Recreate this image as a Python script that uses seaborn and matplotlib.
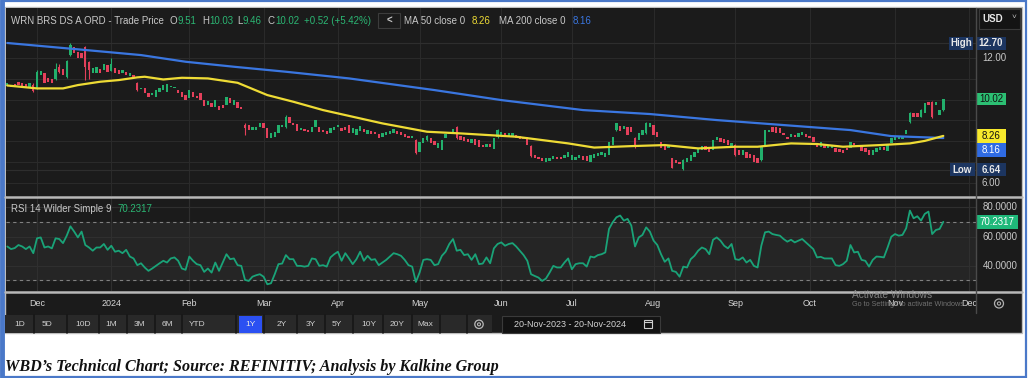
import numpy as np
import matplotlib
matplotlib.use("Agg")
import matplotlib.pyplot as plt
from matplotlib.patches import Rectangle, Circle
import seaborn as sns

# daily candles, 20-Nov-2023 .. 20-Nov-2024
opens = [
    10.65, 10.70, 10.75, 10.86, 10.81, 10.73, 10.62, 10.70, 10.54, 11.18,
    11.26, 11.02, 10.97, 10.97, 11.58, 11.46, 11.10, 12.14, 12.54, 12.30,
    12.25, 12.54, 11.82, 11.26, 11.26, 11.46, 11.42, 11.66, 11.39, 11.50,
    11.42, 11.26, 11.34, 11.14, 11.18, 10.78, 10.52, 10.54, 10.30, 10.22,
    10.14, 10.38, 10.46, 10.38, 10.62, 10.55, 10.46, 10.38, 10.22, 10.06,
    10.38, 10.17, 10.30, 9.98, 9.74, 9.85, 9.66, 9.69, 9.74, 9.74,
    10.06, 9.74, 9.90, 9.66, 8.78, 8.78, 8.54, 8.54, 8.70, 8.86,
    8.62, 8.14, 8.22, 8.38, 8.70, 8.70, 9.18, 8.86, 8.82, 8.54,
    8.57, 8.54, 8.46, 8.70, 8.70, 8.54, 8.51, 8.41, 8.54, 8.67,
    8.65, 8.70, 8.78, 8.38, 8.30, 8.49, 8.59, 8.33, 8.49, 8.46,
    8.33, 8.22, 8.30, 8.36, 8.38, 8.49, 8.43, 8.33, 8.27, 8.14,
    8.06, 7.50, 7.90, 8.06, 8.14, 8.01, 7.66, 7.58, 8.14, 8.33,
    8.41, 8.70, 8.25, 8.19, 8.09, 7.93, 8.09, 8.06, 7.82, 7.71,
    7.87, 7.61, 8.22, 8.30, 8.41, 8.22, 8.19, 8.30, 8.25, 8.22,
    8.22, 7.77, 7.34, 7.26, 7.22, 7.02, 7.06, 7.13, 7.26, 7.26,
    7.18, 7.26, 7.10, 7.10, 7.18, 7.29, 7.29, 7.02, 7.18, 7.29,
    7.34, 7.26, 7.34, 7.82, 8.54, 8.73, 8.57, 8.70, 8.70, 8.14,
    8.06, 8.30, 8.38, 8.70, 8.78, 8.46, 7.98, 7.82, 7.70, 7.18,
    7.10, 7.02, 6.65, 7.02, 7.06, 7.26, 7.42, 7.58, 7.77, 7.74,
    7.58, 8.06, 8.14, 8.09, 8.06, 7.74, 7.82, 7.58, 7.34, 7.50,
    7.38, 7.34, 7.18, 7.10, 7.74, 8.46, 8.70, 8.70, 8.62, 8.41,
    8.22, 8.22, 8.30, 8.22, 8.30, 8.34, 8.25, 8.22, 7.90, 7.74,
    7.82, 7.66, 7.66, 7.66, 7.61, 7.58, 7.66, 7.66, 7.93, 7.74,
    7.82, 7.66, 7.58, 7.34, 7.50, 7.58, 7.74, 7.54, 7.90, 8.06,
    8.09, 8.09, 8.34, 8.94, 9.34, 9.34, 9.18, 9.34, 9.90, 9.90,
    9.74, 9.26, 9.51,
]
closes = [
    10.81, 10.59, 10.62, 10.70, 10.62, 10.62, 10.81, 10.43, 11.34, 11.39,
    10.81, 10.86, 10.78, 11.46, 11.34, 11.18, 11.87, 12.62, 12.22, 11.98,
    12.00, 11.58, 11.42, 11.50, 11.55, 11.30, 11.71, 11.34, 11.71, 11.26,
    11.21, 11.42, 11.18, 11.30, 11.02, 10.46, 10.56, 10.30, 10.14, 10.33,
    10.46, 10.54, 10.70, 10.75, 10.65, 10.62, 10.30, 10.14, 9.98, 10.46,
    10.14, 10.06, 9.98, 9.69, 9.95, 9.63, 9.98, 9.50, 9.58, 10.14,
    9.82, 9.98, 9.58, 9.55, 8.62, 8.54, 8.70, 8.70, 8.86, 8.62,
    8.14, 8.38, 8.46, 8.78, 8.78, 9.18, 8.86, 8.78, 8.51, 8.62,
    8.51, 8.46, 8.70, 9.02, 8.46, 8.46, 8.35, 8.62, 8.70, 8.78,
    8.49, 8.54, 8.38, 8.62, 8.59, 8.75, 8.46, 8.54, 8.33, 8.33,
    8.14, 8.38, 8.43, 8.49, 8.59, 8.33, 8.30, 8.22, 8.14, 8.27,
    7.42, 7.98, 8.17, 8.27, 7.90, 7.82, 7.90, 8.06, 8.33, 8.46,
    8.57, 8.14, 8.06, 8.03, 7.95, 8.09, 7.82, 7.74, 7.71, 7.87,
    7.71, 8.14, 8.54, 8.46, 8.25, 8.38, 8.38, 8.14, 8.09, 8.09,
    7.82, 7.29, 7.18, 7.13, 7.06, 7.18, 7.18, 7.29, 7.14, 7.14,
    7.34, 7.50, 7.34, 7.26, 7.34, 7.10, 7.06, 7.34, 7.38, 7.45,
    7.50, 7.42, 7.98, 8.22, 8.86, 8.51, 8.73, 8.30, 8.46, 7.74,
    8.38, 8.54, 8.86, 8.86, 8.30, 8.22, 7.66, 7.58, 7.78, 6.74,
    6.97, 6.90, 7.10, 7.18, 7.32, 7.50, 7.66, 7.77, 7.58, 7.50,
    8.06, 8.22, 7.98, 7.90, 7.82, 7.90, 7.34, 7.34, 7.58, 7.18,
    7.18, 7.02, 6.94, 7.74, 8.54, 8.54, 8.46, 8.38, 8.38, 8.30,
    8.09, 8.34, 8.19, 8.38, 8.46, 8.19, 8.14, 7.98, 7.74, 7.98,
    7.66, 7.77, 7.82, 7.50, 7.50, 7.45, 7.58, 7.98, 7.82, 7.82,
    7.54, 7.50, 7.34, 7.58, 7.66, 7.74, 7.58, 7.82, 8.14, 8.22,
    8.25, 8.22, 8.54, 9.34, 9.18, 9.18, 9.50, 9.82, 9.74, 9.18,
    9.90, 9.50, 10.02,
]

# the wicks that stand out
wick_days = [7, 8, 13, 14, 16, 17, 21, 22, 28, 35, 64, 75, 110, 113, 121, 132,
             141, 164, 169, 172, 179, 182, 196, 203, 243, 246, 249, 252]
wick_highs = [10.78, 11.40, 11.74, 11.72, 11.90, 12.70, 12.58, 11.86, 11.98, 10.86,
              8.86, 9.26, 8.12, 8.30, 8.74, 8.60, 7.82, 8.90, 8.20, 8.92,
              7.22, 7.14, 7.86, 7.78, 9.40, 9.55, 9.95, 10.03]
wick_lows = [10.38, 10.50, 10.94, 11.30, 11.05, 12.10, 10.94, 10.97, 11.36, 10.40,
             8.30, 8.66, 7.38, 8.00, 8.10, 8.18, 7.25, 8.50, 7.70, 8.34,
             6.70, 6.64, 7.30, 7.05, 8.90, 9.15, 9.14, 9.46]

# moving averages
ma50_days = [0, 8, 15, 19, 25, 30, 35, 37, 42, 47, 54, 62, 70, 77, 85, 92, 101,
             113, 122, 137, 151, 158, 168, 177, 186, 196, 202, 211, 218, 225,
             235, 243, 247, 252]
ma50_vals = [10.68, 10.54, 10.54, 10.70, 10.86, 10.94, 11.07, 11.10, 10.97, 11.05,
             11.02, 10.81, 10.22, 9.90, 9.50, 9.22, 8.86, 8.46, 8.38, 8.22,
             7.90, 7.70, 7.77, 7.82, 7.66, 7.74, 7.74, 7.90, 7.87, 7.74,
             7.82, 7.90, 8.02, 8.26]
ma200_days = [0, 20, 36, 48, 61, 75, 92, 115, 133, 155, 173, 191, 209, 227, 238, 252]
ma200_vals = [12.72, 12.40, 12.14, 11.82, 11.58, 11.34, 11.02, 10.46, 9.98, 9.50,
              9.31, 9.02, 8.78, 8.54, 8.25, 8.16]

# RSI 14 Wilder, one value per day
rsi_values = [
    53.3, 51.5, 52.2, 54.3, 53.3, 51.5, 53.3, 48.7, 58.9, 59.5,
    52.6, 53.3, 52.0, 58.9, 58.4, 55.6, 60.7, 67.1, 63.5, 59.5,
    63.5, 54.3, 52.6, 50.4, 52.6, 52.6, 55.0, 51.0, 53.8, 49.7,
    50.4, 48.7, 51.0, 46.4, 45.1, 40.5, 41.8, 38.9, 36.6, 38.2,
    40.0, 41.8, 43.5, 42.3, 45.1, 45.8, 43.5, 38.2, 37.3, 46.4,
    43.5, 41.2, 40.5, 35.9, 38.2, 35.4, 42.3, 36.6, 42.3, 48.0,
    44.6, 45.1, 40.5, 40.0, 30.4, 29.7, 32.6, 33.6, 34.3, 32.6,
    27.4, 28.1, 34.3, 41.2, 41.6, 47.4, 44.6, 44.6, 40.0, 40.0,
    39.5, 40.0, 45.1, 44.6, 40.0, 40.5, 39.5, 45.8, 48.0, 49.7,
    43.5, 48.7, 45.1, 41.2, 44.6, 49.7, 43.5, 46.9, 44.1, 44.6,
    40.5, 42.3, 44.1, 46.4, 48.7, 48.0, 46.9, 44.1, 40.5, 39.5,
    29.0, 35.4, 44.1, 44.6, 44.1, 40.5, 41.2, 46.9, 49.7, 55.0,
    58.4, 50.4, 51.0, 47.4, 48.0, 44.1, 48.0, 41.2, 41.6, 45.8,
    41.8, 52.0, 55.0, 56.1, 53.8, 55.0, 55.6, 53.3, 50.4,
    47.4, 43.5, 34.3, 33.1, 32.0, 29.7, 31.3, 35.4, 40.0, 38.9,
    38.9, 42.3, 45.1, 37.7, 41.2, 41.8, 41.8, 39.5, 46.4, 45.8,
    47.4, 48.0, 49.2, 65.3, 69.9, 73.3, 74.5, 71.0, 72.2, 67.6,
    53.3, 59.5, 61.2, 66.4, 63.5, 57.3, 54.3, 48.0, 42.8, 45.1,
    36.6, 35.9, 32.6, 39.5, 38.9, 44.6, 46.9, 50.4, 52.6, 51.5,
    48.0, 57.9, 59.5, 57.3, 53.8, 52.0, 55.0, 44.6, 44.1, 45.8,
    42.3, 44.1, 40.0, 38.9, 53.8, 63.0, 63.5, 61.8, 61.2, 60.7,
    58.4, 56.6, 57.9, 56.1, 57.3, 58.4, 56.1, 53.8, 51.5, 45.8,
    46.2, 45.1, 45.1, 45.1, 40.5, 40.0, 41.2, 43.5, 54.3, 49.2,
    49.7, 44.1, 43.5, 39.5, 44.1, 46.4, 46.2, 45.8, 52.6, 60.0,
    61.8, 60.7, 61.2, 65.8, 77.9, 72.6, 74.0, 71.0, 75.6, 77.2,
    61.8, 64.6, 65.3, 70.2,
]

month_days = [8, 28, 49, 69, 89, 111, 133, 152, 174, 196, 216, 239, 259]
month_labels = ['Dec', '2024', 'Feb', 'Mar', 'Apr', 'May', 'Jun', 'Jul', 'Aug',
                'Sep', 'Oct', 'Nov', 'Dec']

high_val, low_val = 12.70, 6.64
last_close, ma50_last, ma200_last = 10.02, 8.26, 8.16
rsi_last = 70.2317
ohlc_text = ['9.51', '10.03', '9.46', '10.02']
change_text = '+0.52 (+5.42%)'

range_buttons = ['1D', '5D', '10D', '1M', '3M', '6M', 'YTD', '1Y', '2Y', '3Y',
                 '5Y', '10Y', '20Y', 'Max']

# colours
BG = '#1b1b1b'
UP = '#22b06c'
DOWN = '#e4405b'
YEL = '#eedb35'
BLUE = '#3a76e0'
RSI_C = '#1aa378'
GRAY = '#c8c8c8'
GREEN_T = '#2bb673'
NAVY = '#1c3560'
FRAME = '#4a78c8'

sns.set_theme(style="dark")
plt.rcParams['font.family'] = ['Liberation Sans', 'DejaVu Sans']

W, H = 1029, 378
fig = plt.figure(figsize=(W / 100, H / 100), dpi=100, facecolor='white')


def rect(x0, y0, x1, y1):
    return [x0 / W, 1 - y1 / H, (x1 - x0) / W, (y1 - y0) / H]


base = fig.add_axes([0, 0, 1, 1])
base.set_xlim(0, W)
base.set_ylim(H, 0)
base.axis('off')
base.add_patch(Rectangle((5, 7), 1017, 326, facecolor=BG, edgecolor='#bdbdbd', lw=1))
base.add_patch(Rectangle((5, 315), 487, 18, facecolor='#292929', lw=0))

# price panel
ax = fig.add_axes(rect(5.5, 8, 976, 196))
ax2 = fig.add_axes(rect(5.5, 198, 976, 291), sharex=ax)
for a in (ax, ax2):
    a.set_facecolor(BG)
    for s in a.spines.values():
        s.set_visible(False)

days = np.arange(len(closes))
o = np.array(opens)
c = np.array(closes)
colors = np.where(c >= o, UP, DOWN)
ax.bar(days, np.maximum(np.abs(c - o), 0.035), bottom=np.minimum(o, c), width=0.64,
       color=colors, linewidth=0, zorder=3)
wick_cols = [UP if closes[d] >= opens[d] else DOWN for d in wick_days]
ax.vlines(wick_days, wick_lows, wick_highs, colors=wick_cols, lw=0.8, zorder=2)

sns.lineplot(x=ma200_days, y=ma200_vals, ax=ax, color=BLUE, linewidth=1.6, zorder=4)
sns.lineplot(x=ma50_days, y=ma50_vals, ax=ax, color=YEL, linewidth=1.6, zorder=5)

ax.set_xlim(-0.485, 260.8)
ax.set_ylim(5.375, 14.40)
ax.set_yticks(range(6, 13))
ax.grid(True, color='#2a2a2a', lw=0.8)
ax.axhline(high_val, color='#2e2e2e', lw=0.8, zorder=1)
ax.axhline(low_val, color='#2e2e2e', lw=0.8, zorder=1)
ax.tick_params(left=False, bottom=False, labelleft=False, labelbottom=False)
ax.set_xlabel('')
ax.set_ylabel('')

# RSI panel
ax2.axhspan(30, 70, color='#252525', zorder=0)
ax2.axhline(70, color='#808080', lw=0.8, ls=(0, (3, 3)), zorder=1)
ax2.axhline(30, color='#808080', lw=0.8, ls=(0, (3, 3)), zorder=1)
sns.lineplot(x=np.arange(len(rsi_values)), y=rsi_values, ax=ax2, color=RSI_C,
             linewidth=1.3, zorder=3)
ax2.set_ylim(22.8, 86.5)
ax2.set_yticks([40, 60, 80])
ax2.grid(True, color='#2f2f2f', lw=0.8)
ax2.set_xticks(month_days, month_labels)
ax2.tick_params(axis='x', length=0, pad=6, labelsize=6.5, labelcolor='#d6d6d6')
ax2.tick_params(axis='y', left=False, labelleft=False)
ax2.set_xlabel('')
ax2.set_ylabel('')
ax.set_xlim(-0.485, 260.8)

# overlay for texts, boxes, frame
top = fig.add_axes([0, 0, 1, 1])
top.set_xlim(0, W)
top.set_ylim(H, 0)
top.axis('off')


def ypx(a, v):
    return H - a.transData.transform((0, v))[1]


top.add_patch(Rectangle((2, 1), 1024, 376, fill=False, edgecolor=FRAME, lw=1.6))
top.plot([2, 2], [0, H], color=FRAME, lw=3.5)
top.plot([5, 1022], [196.8, 196.8], color='#b8b8b8', lw=1.8)
top.plot([5, 1022], [291.8, 291.8], color='#b8b8b8', lw=1.8)
top.plot([976, 976], [8, 313], color='#4a4a4a', lw=1)

# header
hy = 20.7
fs = 7
top.text(11, hy, 'WRN BRS DS A ORD - Trade Price', color=GRAY, fontsize=fs, va='center')
for x, letter, xv, val in zip([170, 202, 237, 267], 'OHLC', [178, 209, 242.5, 275], ohlc_text):
    top.text(x, hy, letter, color=GRAY, fontsize=fs, va='center')
    top.text(xv, hy, val, color=GREEN_T, fontsize=fs, va='center')
top.text(304, hy, change_text, color=GREEN_T, fontsize=fs, va='center')
top.add_patch(Rectangle((378, 13), 22, 15, facecolor=BG, edgecolor='#3c3c3c', lw=0.8))
top.text(389, hy, '<', color=GRAY, fontsize=7, va='center', ha='center', weight='bold')
top.text(404, hy, 'MA 50 close 0', color=GRAY, fontsize=fs, va='center')
top.text(472, hy, f'{ma50_last:.2f}', color=YEL, fontsize=fs, va='center')
top.text(499, hy, 'MA 200 close 0', color=GRAY, fontsize=fs, va='center')
top.text(572.5, hy, f'{ma200_last:.2f}', color=BLUE, fontsize=fs, va='center')

# USD selector
top.add_patch(Rectangle((979, 8.5), 40.5, 20, facecolor='#141414', edgecolor='#3a3a3a', lw=0.8))
top.text(982.5, 18.5, 'USD', color='#e6e6e6', fontsize=7, va='center', weight='bold')
top.text(1014, 18, '˅', color='#bbbbbb', fontsize=6, va='center', ha='center')


def tag(x0, x1, yc, s, fc, tc, h=13.4, bold=False):
    top.add_patch(Rectangle((x0, yc - h / 2), x1 - x0, h, facecolor=fc, lw=0))
    top.text((x0 + x1) / 2, yc, s, color=tc, fontsize=7, va='center', ha='center',
             weight='bold' if bold else 'normal')


# price scale
for v in (12, 6):
    top.text(982, ypx(ax, v), f'{v:.2f}', color=GRAY, fontsize=7, va='center')
y_hi = ypx(ax, high_val)
tag(949, 973, y_hi, 'High', NAVY, '#e8e8e8', bold=True)
tag(976, 1006, y_hi, f'{high_val:.2f}', NAVY, '#e8e8e8', bold=True)
y_lo = ypx(ax, low_val)
tag(950, 975, y_lo, 'Low', NAVY, '#e8e8e8', bold=True)
tag(977, 1006, y_lo, f'{low_val:.2f}', NAVY, '#e8e8e8', bold=True)
tag(976, 1006, ypx(ax, last_close), f'{last_close:.2f}', '#2cbf73', '#111111', h=12.5)
y50 = ypx(ax, ma50_last)
tag(976, 1006, y50, f'{ma50_last:.2f}', '#f7e92c', '#111111', h=14)
tag(976, 1006, y50 + 14, f'{ma200_last:.2f}', '#2f6be3', '#ffffff', h=14)

# RSI scale
top.text(11, 209, 'RSI 14 Wilder Simple 9', color=GRAY, fontsize=fs, va='center')
top.text(117, 209, f'{rsi_last:.4f}', color=GREEN_T, fontsize=fs, va='center')
for v in (80, 60, 40):
    top.text(982.5, ypx(ax2, v), f'{v:.4f}', color=GRAY, fontsize=7, va='center')
tag(976, 1018, ypx(ax2, rsi_last), f'{rsi_last:.4f}', '#1fb87a', '#ffffff', h=14)

# range buttons
bx = [20, 47, 83, 111, 139, 167, 197, 250, 282, 311, 337, 369, 397, 425]
for sx in [34, 67, 99, 127, 155, 182, 236, 264, 297, 325, 353, 383, 412, 440, 467]:
    top.plot([sx, sx], [315, 333], color='#161616', lw=1.2)
top.add_patch(Rectangle((239, 316), 23, 16.5, facecolor='#2b50f2', lw=0))
for x, lab in zip(bx, range_buttons):
    top.text(x, 324.3, lab, color='#e6e6e6' if lab == '1Y' else '#cfcfcf',
             fontsize=6, va='center', ha='center')
top.add_patch(Circle((479, 324.3), 4.2, fill=False, edgecolor='#b8b8b8', lw=0.9))
top.add_patch(Circle((479, 324.3), 1.5, fill=False, edgecolor='#b8b8b8', lw=0.8))

top.add_patch(Rectangle((502, 315.5), 158, 17.5, facecolor='#121212', edgecolor='#3a3a3a', lw=0.8))
top.text(513.5, 324.3, '20-Nov-2023 - 20-Nov-2024', color='#d4d4d4', fontsize=6.5, va='center')
top.add_patch(Rectangle((643.5, 320), 8, 8, fill=False, edgecolor='#cfcfcf', lw=0.8))
top.plot([643.5, 651.5], [322.3, 322.3], color='#cfcfcf', lw=0.8)

top.add_patch(Circle((999, 303.5), 4.5, fill=False, edgecolor='#b0b0b0', lw=0.9))
top.add_patch(Circle((999, 303.5), 1.6, fill=False, edgecolor='#b0b0b0', lw=0.8))

# windows watermark (it sits over the Nov/Dec labels in the screenshot too)
top.text(852.5, 294.5, 'Activate Windows', color='#8c8c8c', fontsize=7.3, va='center', alpha=0.9)
top.text(852.5, 304, 'Go to Settings to activate Windows.', color='#7a7a7a', fontsize=5.2,
         va='center', alpha=0.9)

# caption
top.text(5, 367, 'WBD’s Technical Chart; Source: REFINITIV; Analysis by Kalkine Group',
         family=['Liberation Serif', 'DejaVu Serif'], weight='bold', style='italic',
         fontsize=11.6, va='center', color='#111111')

fig.savefig('out.png', dpi=100, facecolor='white')
